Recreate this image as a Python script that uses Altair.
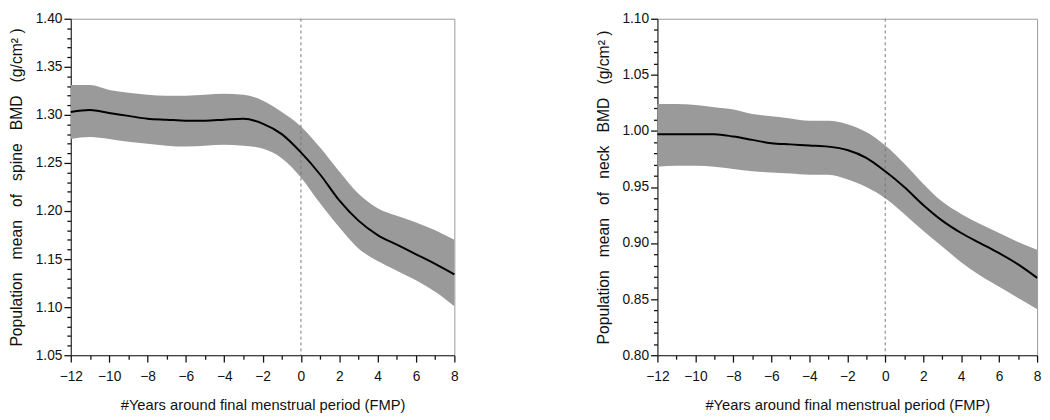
import altair as alt
import pandas as pd

years = list(range(-12, 9))

spine_mean = [1.303, 1.305, 1.302, 1.299, 1.296, 1.295, 1.294, 1.294, 1.295, 1.296, 1.291,
              1.280, 1.261, 1.238, 1.211, 1.190, 1.175, 1.165, 1.155, 1.145, 1.134]
spine_upper = [1.331, 1.331, 1.326, 1.323, 1.321, 1.320, 1.320, 1.321, 1.322, 1.321, 1.315,
               1.303, 1.288, 1.266, 1.241, 1.218, 1.203, 1.195, 1.188, 1.180, 1.170]
spine_lower = [1.275, 1.277, 1.275, 1.272, 1.270, 1.268, 1.267, 1.268, 1.269, 1.268, 1.265,
               1.255, 1.235, 1.208, 1.183, 1.161, 1.148, 1.138, 1.128, 1.116, 1.101]

neck_mean = [0.997, 0.997, 0.997, 0.997, 0.995, 0.992, 0.989, 0.988, 0.987, 0.986, 0.983,
             0.976, 0.964, 0.950, 0.934, 0.920, 0.909, 0.900, 0.891, 0.881, 0.869]
neck_upper = [1.024, 1.024, 1.023, 1.021, 1.019, 1.015, 1.013, 1.011, 1.009, 1.009, 1.006,
              0.999, 0.987, 0.971, 0.953, 0.937, 0.926, 0.917, 0.909, 0.901, 0.894]
neck_lower = [0.968, 0.969, 0.969, 0.968, 0.966, 0.964, 0.963, 0.962, 0.961, 0.961, 0.957,
              0.950, 0.940, 0.926, 0.911, 0.897, 0.883, 0.871, 0.861, 0.851, 0.841]

fmp_year = [0]

x_ticks = list(range(-12, 9))
spine_yticks = [round(1.05 + 0.01 * i, 2) for i in range(36)]
neck_yticks = [round(0.80 + 0.01 * i, 2) for i in range(31)]

SP = "\u00a0\u00a0 "
x_title = "#Years around final menstrual period (FMP)"
spine_title = SP.join(["Population", "mean", "of", "spine", "BMD", "(g/cm²\u00a0)"])
neck_title = SP.join(["Population", "mean", "of", "neck", "BMD", "(g/cm²\u00a0)"])

FONT = "Liberation Sans"


def panel(mean, lo, hi, ydom, yticks, ytitle, w, h):
    df = pd.DataFrame({"t": years, "mean": mean, "lo": lo, "hi": hi})
    xaxis = alt.Axis(
        values=x_ticks,
        title=x_title,
        labelOverlap=False,
        labelFlush=False,
        labelPadding=8,
        titlePadding=14,
        labelExpr="abs(datum.value) % 2 != 0 ? '' : format(datum.value, 'd')",
        tickSize={"condition": {"test": "abs(datum.value) % 2 == 0", "value": 7}, "value": 4},
        tickWidth=1.3,
        grid=False,
    )
    yaxis = alt.Axis(
        values=yticks,
        title=ytitle,
        labelOverlap=False,
        labelFlush=False,
        labelExpr="round(datum.value * 100) % 5 == 0 ? format(datum.value, '.2f') : ''",
        tickSize={"condition": {"test": "round(datum.value * 100) % 5 == 0", "value": 7}, "value": 4},
        tickWidth=1.3,
        grid=False,
        titleFontSize=16,
        titlePadding=11,
    )
    xs = alt.Scale(domain=[-12, 8], nice=False, zero=False)
    ys = alt.Scale(domain=ydom, nice=False, zero=False)
    base = alt.Chart(df)
    band = base.mark_area(color="#9a9a9a", opacity=1, interpolate="monotone").encode(
        x=alt.X("t:Q", scale=xs, axis=xaxis),
        y=alt.Y("lo:Q", scale=ys, axis=yaxis),
        y2="hi:Q",
    )
    line = base.mark_line(color="black", strokeWidth=2, interpolate="monotone").encode(
        x=alt.X("t:Q", scale=xs, axis=xaxis),
        y=alt.Y("mean:Q", scale=ys, axis=yaxis),
    )
    rule = alt.Chart(pd.DataFrame({"t": fmp_year})).mark_rule(
        color="#777777", strokeDash=[3, 3], strokeWidth=1
    ).encode(x=alt.X("t:Q", scale=xs, axis=xaxis))
    return alt.layer(band, rule, line).properties(width=w, height=h)


left = panel(spine_mean, spine_lower, spine_upper, [1.05, 1.40], spine_yticks, spine_title, 391, 343)
right = panel(neck_mean, neck_lower, neck_upper, [0.80, 1.10], neck_yticks, neck_title, 387, 343)

chart = (
    alt.hconcat(left, right, spacing=207, bounds="flush")
    .properties(padding={"left": 0, "top": -1, "right": 0, "bottom": 0})
    .configure_view(stroke="#999999", strokeWidth=1)
    .configure_axis(
        labelFont=FONT,
        titleFont=FONT,
        labelFontSize=14,
        titleFontSize=15,
        labelColor="#111111",
        titleColor="#111111",
        titleFontWeight="normal",
        domainColor="#222222",
        tickColor="#111111",
        labelPadding=2,
        titlePadding=8,
    )
)

chart.save("out.html", embed_options={"renderer": "svg", "actions": False})
